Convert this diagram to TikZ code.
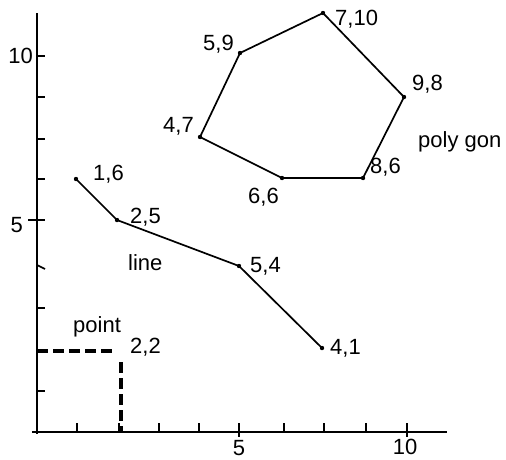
\documentclass[tikz,border=0pt]{standalone}
\usepackage{fontspec}
\setmainfont{Liberation Sans}
\begin{document}
\begin{tikzpicture}[x=1pt,y=-1pt,
  lbl/.style={font=\fontsize{22}{26}\selectfont, inner sep=0pt, anchor=base west},
  axisline/.style={line width=1.8pt},
  tickline/.style={line width=1.6pt},
  shapeline/.style={line width=1.7pt, line join=round},
  dashline/.style={line width=3.2pt, dash pattern=on 11pt off 5pt},
  vdot/.style={fill=black, radius=2.2pt}]
\useasboundingbox (0,0) rectangle (506,459);
% axes
\coordinate (ytop) at (37,13);
\coordinate (ybot) at (37,434);
\coordinate (xl) at (32,432);
\coordinate (xr) at (447,432);
\draw[axisline] (ytop) -- (ybot);
\draw[axisline] (xl) -- (xr);
% x ticks
\foreach \t in {77,119,159,199,284,324,366}
  \draw[tickline] (\t,423) -- (\t,432);
\foreach \t in {239,407}
  \draw[tickline] (\t,423) -- (\t,437);
% y ticks
\foreach \t in {97,139,179,308,351,391}
  \draw[tickline] (37,\t) -- (45,\t);
\draw[tickline] (37,265) -- (45,269);
\draw[tickline] (37,56) -- (45,56);
\draw[tickline] (28,220) -- (45,220);
% tick labels
\node[lbl, anchor=base east] (y10) at (33,63) {10};
\node[lbl, anchor=base east] (y5) at (23,232) {5};
\node[lbl, anchor=base] (x5) at (239,455) {5};
\node[lbl, anchor=base] (x10) at (405,454) {10};
% point
\coordinate (ph0) at (37,351);
\coordinate (ph1) at (117,351);
\coordinate (pv0) at (121,362);
\coordinate (pv1) at (121,432);
\draw[dashline] (ph0) -- (ph1);
\draw[dashline] (pv0) -- (pv1);
\node[lbl] (lpoint) at (73,332) {point};
\node[lbl] (l22) at (130,353) {2,2};
% line
\coordinate (a) at (76,179);
\coordinate (b) at (117,220);
\coordinate (c) at (239,266);
\coordinate (d) at (322,348);
\draw[shapeline] (a) -- (b) -- (c) -- (d);
\foreach \p in {a,b,c,d} \fill[vdot] (\p) circle;
\node[lbl] (l16) at (93,180) {1,6};
\node[lbl] (l25) at (130,223) {2,5};
\node[lbl] (lline) at (128,270) {line};
\node[lbl] (l54) at (250,272) {5,4};
\node[lbl] (l41) at (330,354) {4,1};
% polygon
\coordinate (p1) at (200,137);
\coordinate (p2) at (240,53);
\coordinate (p3) at (323,13);
\coordinate (p4) at (404,97);
\coordinate (p5) at (363,178);
\coordinate (p6) at (282,178);
\draw[shapeline] (p1) -- (p2) -- (p3) -- (p4) -- (p5) -- (p6) -- cycle;
\foreach \p in {p1,p2,p3,p4,p5,p6} \fill[vdot] (\p) circle;
\node[lbl] (l47) at (163,132) {4,7};
\node[lbl] (l59) at (203,50) {5,9};
\node[lbl] (l710) at (335,25) {7,10};
\node[lbl] (l98) at (412,90) {9,8};
\node[lbl] (lpoly) at (418,147) {poly gon};
\node[lbl] (l86) at (370,173) {8,6};
\node[lbl] (l66) at (248,203) {6,6};
\end{tikzpicture}
\end{document}
